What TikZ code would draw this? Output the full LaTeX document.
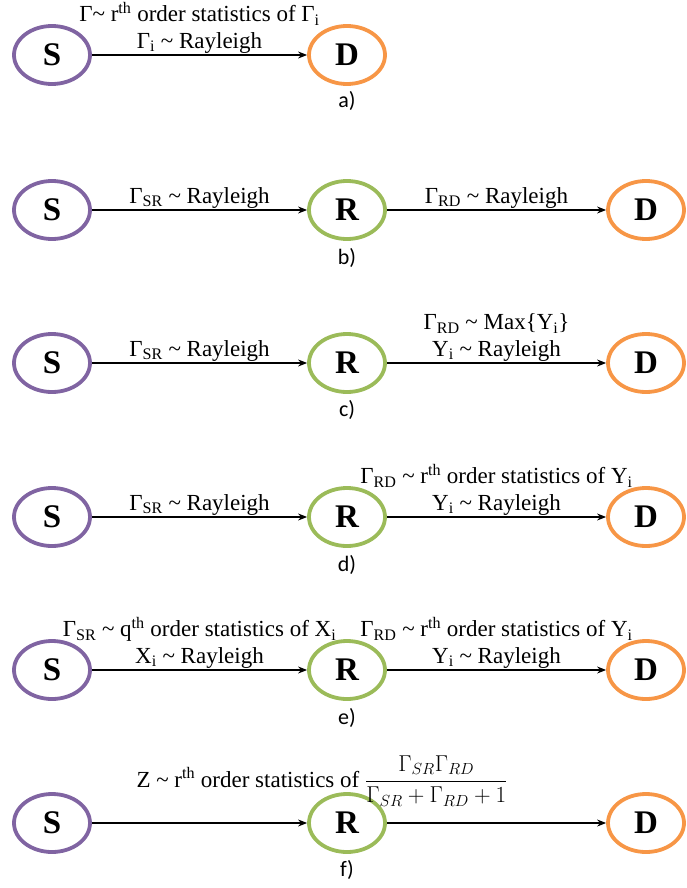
\RequirePackage{fix-cm}
\documentclass[tikz,border=0pt]{standalone}
\usepackage{amsmath}
\usepackage[no-math]{fontspec}
\setmainfont{Liberation Serif}
\newfontfamily\tagfont{Carlito}
\usepackage{xcolor}
\usepackage{tikz}
\usetikzlibrary{positioning, arrows.meta, shapes.geometric}
\definecolor{srcpurple}{HTML}{8064A2}
\definecolor{relaygreen}{HTML}{9BBB59}
\definecolor{dstorange}{HTML}{F79646}
\newcommand{\subtxt}[1]{\textsubscript{#1}}
\newcommand{\sth}{\textsuperscript{th}}
\newcommand{\tld}{\char"7E}

\begin{document}
\begin{tikzpicture}[x=1pt, y=-1pt,
    term/.style={ellipse, draw, line width=3.8pt, minimum width=76pt, minimum height=58pt, inner sep=0pt, font=\bfseries\fontsize{33}{33}\selectfont},
    src/.style={term, draw=srcpurple},
    relay/.style={term, draw=relaygreen},
    dst/.style={term, draw=dstorange},
    arr/.style={-{Stealth[length=9pt, width=7pt]}, line width=1.1pt},
    lbl/.style={above, inner sep=1pt, align=center, font=\fontsize{23}{26.5}\selectfont},
    tag/.style={font=\tagfont\fontsize{22}{22}\selectfont}
]
\useasboundingbox (0,0) rectangle (686,888);
% a) direct link
\node[src] (sa) at (52,55) {S};
\node[dst] (da) at (347,55) {D};
\draw[arr] (sa) -- node[lbl]{Γ\tld{} r\sth{} order statistics of Γ\subtxt{i}\\Γ\subtxt{i} \tld{} Rayleigh} (da);
\node[tag] (ta) at (347,101) {a)};
% b) single relay
\node[src] (sb) at (52,210) {S};
\node[relay] (rb) at (347,210) {R};
\node[dst] (db) at (646,210) {D};
\draw[arr] (sb) -- node[lbl]{Γ\subtxt{SR} \tld{} Rayleigh} (rb);
\draw[arr] (rb) -- node[lbl]{Γ\subtxt{RD} \tld{} Rayleigh} (db);
\node[tag] (tb) at (347,258) {b)};
% c) max on second hop
\node[src] (sc) at (52,363) {S};
\node[relay] (rc) at (347,363) {R};
\node[dst] (dc) at (646,363) {D};
\draw[arr] (sc) -- node[lbl]{Γ\subtxt{SR} \tld{} Rayleigh} (rc);
\draw[arr] (rc) -- node[lbl]{Γ\subtxt{RD} \tld{} Max\{Y\subtxt{i}\}\\Y\subtxt{i} \tld{} Rayleigh} (dc);
\node[tag] (tc) at (347,410) {c)};
% d) order statistics on second hop
\node[src] (sd) at (52,517) {S};
\node[relay] (rd) at (347,517) {R};
\node[dst] (dd) at (646,517) {D};
\draw[arr] (sd) -- node[lbl]{Γ\subtxt{SR} \tld{} Rayleigh} (rd);
\draw[arr] (rd) -- node[lbl]{Γ\subtxt{RD} \tld{} r\sth{} order statistics of Y\subtxt{i}\\Y\subtxt{i} \tld{} Rayleigh} (dd);
\node[tag] (td) at (347,565) {d)};
% e) order statistics on both hops
\node[src] (se) at (52,670) {S};
\node[relay] (re) at (347,670) {R};
\node[dst] (de) at (646,670) {D};
\draw[arr] (se) -- node[lbl]{Γ\subtxt{SR} \tld{} q\sth{} order statistics of X\subtxt{i}\\X\subtxt{i} \tld{} Rayleigh} (re);
\draw[arr] (re) -- node[lbl]{Γ\subtxt{RD} \tld{} r\sth{} order statistics of Y\subtxt{i}\\Y\subtxt{i} \tld{} Rayleigh} (de);
\node[tag] (te) at (347,718) {e)};
% f) end-to-end SNR
\node[src] (sf) at (52,823) {S};
\node[relay] (rf) at (347,823) {R};
\node[dst] (df) at (646,823) {D};
\draw[arr] (sf) -- (rf);
\draw[arr] (rf) -- (df);
\node[lbl, anchor=center] (zf) at (322,781) {Z \tld{} r\sth{} order statistics of $\dfrac{\Gamma_{SR}\Gamma_{RD}}{\Gamma_{SR}+\Gamma_{RD}+1}$};
\node[tag] (tf) at (347,870) {f)};
\end{tikzpicture}
\end{document}
